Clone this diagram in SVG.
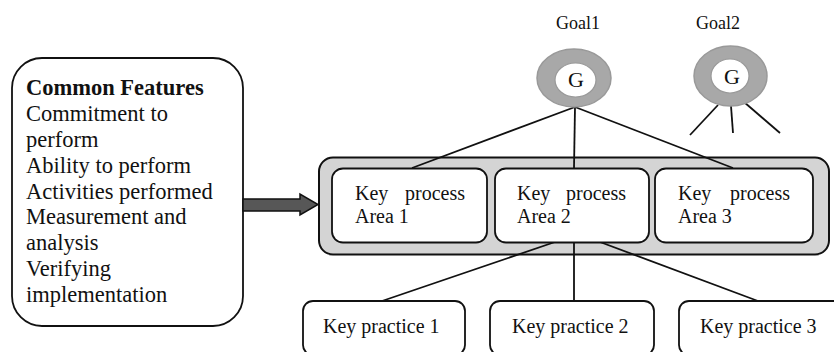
<svg xmlns="http://www.w3.org/2000/svg" width="834" height="352" viewBox="0 0 834 352">
<style>
text{font-family:"Liberation Serif","Times New Roman",serif;fill:#111}
.box{fill:#fff;stroke:#111;stroke-width:1.8}
.ln{stroke:#111;stroke-width:1.8;fill:none}
.t20{font-size:20px}
.t22{font-size:22.5px}
.ring{fill:#a8a8a8;stroke:#999;stroke-width:1.5}
.core{fill:#fff;stroke:#999;stroke-width:1.2}
</style>
<rect width="834" height="352" fill="#fff"/>
<g id="common-features">
<rect class="box" x="12" y="58" width="231" height="268" rx="30" ry="30" stroke-width="2"/>
<text class="t22" x="26" y="95" font-weight="bold">Common Features</text>
<text class="t22" x="26" y="121">Commitment to</text>
<text class="t22" x="26" y="147">perform</text>
<text class="t22" x="26" y="173">Ability to perform</text>
<text class="t22" x="26" y="199">Activities performed</text>
<text class="t22" x="26" y="224">Measurement and</text>
<text class="t22" x="26" y="250">analysis</text>
<text class="t22" x="26" y="276">Verifying</text>
<text class="t22" x="26" y="302">implementation</text>
</g>
<g id="kpa-container">
<rect x="319" y="157.5" width="510" height="97" rx="14" ry="14" fill="#d4d4d4" stroke="#111" stroke-width="2"/>
</g>
<g id="connectors">
<path d="M243 199 H300 V194 L318 204.5 L300 215 V211 H243 Z" fill="#575757" stroke="#111" stroke-width="1.5"/>
<line class="ln" x1="575" y1="107" x2="412" y2="168"/>
<line class="ln" x1="575" y1="107" x2="574" y2="168"/>
<line class="ln" x1="575" y1="107" x2="733" y2="168"/>
<line class="ln" x1="718" y1="105" x2="690" y2="135"/>
<line class="ln" x1="731" y1="106" x2="733" y2="133"/>
<line class="ln" x1="744" y1="102" x2="780" y2="133"/>
<line class="ln" x1="555" y1="242" x2="382" y2="301"/>
<line class="ln" x1="574" y1="242" x2="574" y2="301"/>
<line class="ln" x1="600" y1="242" x2="758" y2="301"/>
</g>
<g id="kpa1">
<rect class="box" x="332" y="168.5" width="155" height="74" rx="11" ry="11"/>
<text class="t20" x="355" y="200">Key</text>
<text class="t20" x="465" y="200" text-anchor="end">process</text>
<text class="t20" x="355" y="223">Area 1</text>
</g>
<g id="kpa2">
<rect class="box" x="495" y="168.5" width="154" height="74" rx="11" ry="11"/>
<text class="t20" x="517" y="200">Key</text>
<text class="t20" x="626" y="200" text-anchor="end">process</text>
<text class="t20" x="517" y="223">Area 2</text>
</g>
<g id="kpa3">
<rect class="box" x="655" y="168.5" width="158" height="74" rx="11" ry="11"/>
<text class="t20" x="678" y="200">Key</text>
<text class="t20" x="790" y="200" text-anchor="end">process</text>
<text class="t20" x="678" y="223">Area 3</text>
</g>
<g id="goal1">
<text x="578" y="29" font-size="18" text-anchor="middle">Goal1</text>
<ellipse class="ring" cx="574" cy="78" rx="37" ry="29"/>
<ellipse class="core" cx="575.5" cy="80" rx="20.5" ry="17"/>
<text x="576" y="87" font-size="22" text-anchor="middle">G</text>
</g>
<g id="goal2">
<text x="718" y="29" font-size="18" text-anchor="middle">Goal2</text>
<ellipse class="ring" cx="730.5" cy="76" rx="36.5" ry="30"/>
<ellipse class="core" cx="730" cy="76" rx="19" ry="17"/>
<text x="732" y="84" font-size="22" text-anchor="middle">G</text>
</g>
<g id="kp1">
<rect class="box" x="303" y="301" width="162" height="54" rx="10" ry="10"/>
<text class="t20" x="323" y="333">Key practice 1</text>
</g>
<g id="kp2">
<rect class="box" x="490" y="301" width="164" height="54" rx="10" ry="10"/>
<text class="t20" x="512" y="333">Key practice 2</text>
</g>
<g id="kp3">
<rect class="box" x="679" y="301" width="170" height="54" rx="10" ry="10"/>
<text class="t20" x="700" y="333">Key practice 3</text>
</g>
</svg>
